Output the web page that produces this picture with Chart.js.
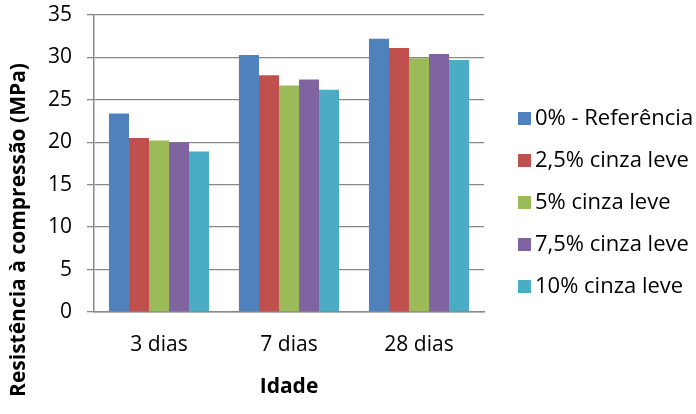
<!DOCTYPE html>
<html>
<head>
<meta charset="utf-8">
<script src="https://cdn.jsdelivr.net/npm/chart.js@4"></script>
<style>
  html, body { margin: 0; padding: 0; background: #fff; }
  #wrap { width: 696px; height: 414px; }
</style>
</head>
<body>
<div id="wrap"><canvas id="chart" width="696" height="414"></canvas></div>
<script>
const categories = ['3 dias', '7 dias', '28 dias'];
const seriesNames = ['0% - Referência', '2,5% cinza leve', '5% cinza leve', '7,5% cinza leve', '10% cinza leve'];
const ref0 = [23.4, 30.3, 32.2];
const cinza25 = [20.5, 27.9, 31.1];
const cinza5 = [20.2, 26.7, 29.9];
const cinza75 = [20.0, 27.4, 30.4];
const cinza10 = [18.9, 26.2, 29.7];
const colors = ['#4F81BD', '#C0504D', '#9BBB59', '#8064A2', '#4BACC6'];
const yTitle = 'Resistência à compressão (MPa)';

// legend swatch: square sitting at the right end of a wider transparent image
function swatch(color) {
  const c = document.createElement('canvas');
  c.width = 34;
  c.height = 13;
  const g = c.getContext('2d');
  g.fillStyle = color;
  g.fillRect(21, 0, 13, 13);
  return c;
}

// y title is drawn by hand so it can sit lower, like in the original
const yTitlePlugin = {
  id: 'yTitle',
  afterDraw(chart) {
    const ctx = chart.ctx;
    ctx.save();
    ctx.translate(19, 230);
    ctx.rotate(-Math.PI / 2);
    ctx.font = 'bold 21px "Open Sans"';
    ctx.fillStyle = '#000';
    ctx.textAlign = 'center';
    ctx.textBaseline = 'middle';
    ctx.fillText(yTitle, 0, 0);
    ctx.restore();
  }
};

window.addEventListener('load', () => {
  const values = [ref0, cinza25, cinza5, cinza75, cinza10];
  const swatches = colors.map(swatch);
  const ctx = document.getElementById('chart').getContext('2d');
  new Chart(ctx, {
    type: 'bar',
    data: {
      labels: categories,
      datasets: values.map((v, i) => ({
        label: seriesNames[i],
        data: v,
        backgroundColor: colors[i],
        borderWidth: 0,
        categoryPercentage: 0.77,
        barPercentage: 1.0
      }))
    },
    options: {
      responsive: false,
      animation: false,
      layout: { padding: { top: 0, right: 0, left: 2, bottom: 9 } },
      plugins: {
        legend: {
          position: 'right',
          align: 'center',
          maxWidth: 212,
          labels: {
            usePointStyle: true,
            pointStyleWidth: 20,
            padding: 20,
            color: '#000',
            font: { family: 'Open Sans', size: 22 },
            generateLabels: (chart) =>
              Chart.defaults.plugins.legend.labels.generateLabels(chart)
                .map((item, i) => ({ ...item, pointStyle: swatches[i] }))
          }
        },
        tooltip: { enabled: false }
      },
      scales: {
        x: {
          grid: { display: false, drawTicks: false },
          border: { color: '#888', width: 1.5 },
          ticks: { color: '#000', padding: 20, font: { family: 'Open Sans', size: 21 } },
          title: { display: true, text: 'Idade', color: '#000', padding: { top: 2, bottom: 5 }, font: { family: 'Open Sans', size: 21, weight: 'bold' } },
          afterFit: (s) => { s.height = 93; }
        },
        y: {
          min: 0,
          max: 35,
          ticks: { stepSize: 5, color: '#000', padding: 15, font: { family: 'Open Sans', size: 21 } },
          grid: { color: '#888', lineWidth: 1.3, tickLength: 7 },
          border: { color: '#888', width: 1.5 },
          title: { display: true, text: yTitle, color: 'rgba(0,0,0,0)', padding: { top: 4, bottom: 14 }, font: { family: 'Open Sans', size: 21, weight: 'bold' } },
          afterFit: (s) => { s.width = 92; s.paddingTop = 15; }
        }
      }
    },
    plugins: [yTitlePlugin]
  });
});
</script>
</body>
</html>
